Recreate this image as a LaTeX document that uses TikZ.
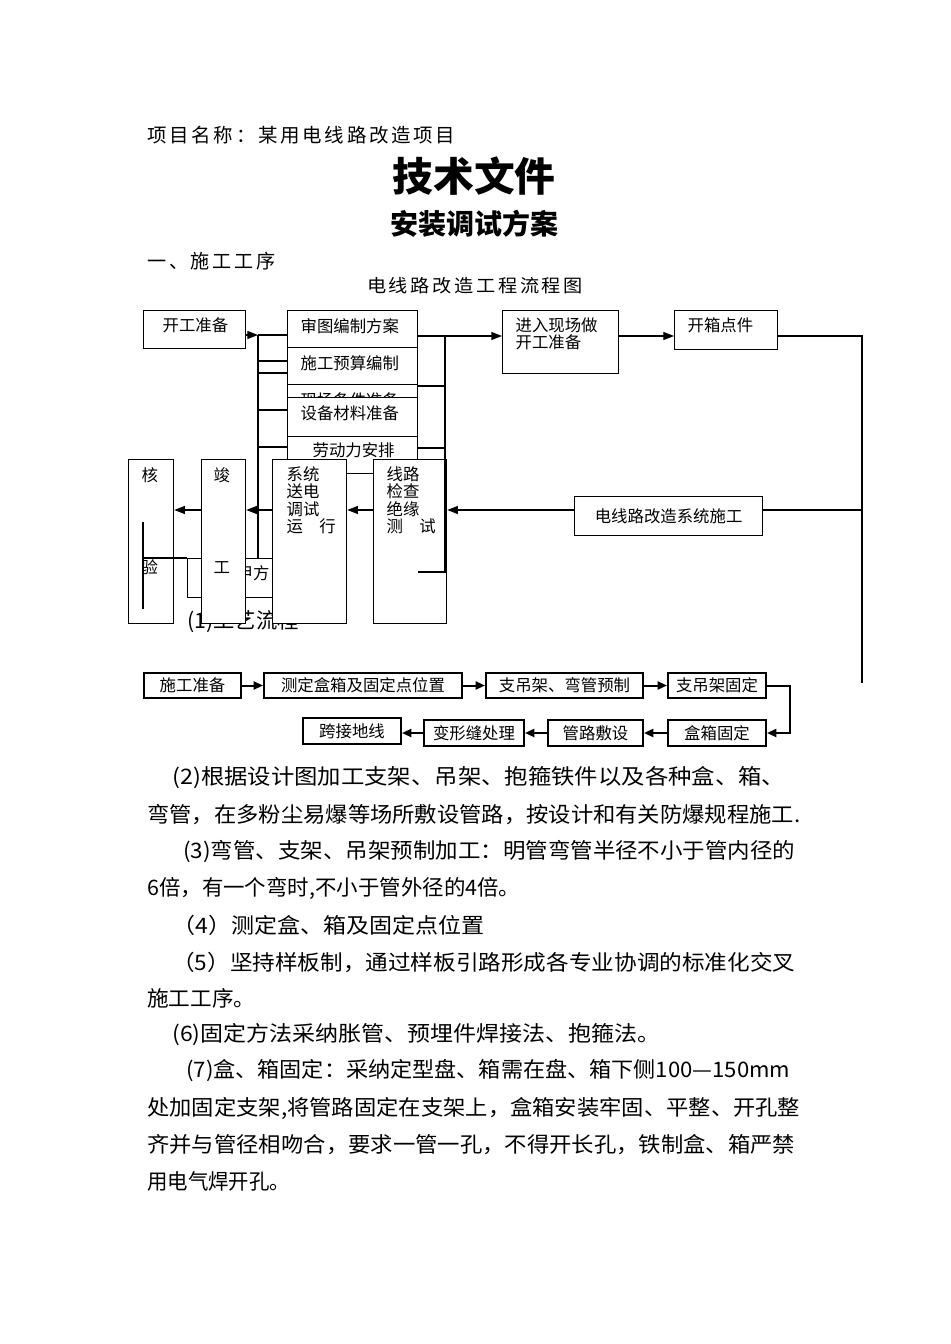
\documentclass[tikz,border=0pt]{standalone}
\usepackage{graphicx}
\usepackage{fontspec}
\setmainfont{Noto Sans CJK SC}
\newfontfamily\widecjk[LetterSpace=14]{Noto Sans CJK SC}
\usetikzlibrary{arrows.meta, positioning}

\newlength\pxu
\setlength\pxu{0.75pt}
\newcommand{\flowfont}{\fontsize{12.3pt}{13pt}\selectfont}
\newcommand{\bodyfont}{\fontsize{16pt}{18pt}\selectfont}
% stretch a line of text to a width given in pixels
\newcommand{\fitto}[2]{\resizebox{#1\pxu}{\height}{#2}}
% box content: width, height, top gap, left gap, text
\newcommand{\colbox}[5]{\parbox[c][#2\pxu][t]{#1\pxu}{\vspace*{#3\pxu}\leftskip=#4\pxu\relax\noindent #5}}

\tikzset{
  sz/.style 2 args={minimum width=#1*0.75pt, minimum height=#2*0.75pt},
  flowbox/.style={rectangle, draw, fill=white, line width=0.95pt, inner sep=0pt,
                  anchor=north west, font=\flowfont},
  stepbox/.style={rectangle, draw, fill=white, line width=1.5pt, inner sep=0pt,
                  anchor=north west, font=\flowfont},
  link/.style={line width=0.95pt},
  linkarrow/.style={link, -{Triangle[length=8pt, width=6pt]}},
  steparrow/.style={line width=1.5pt, -{Triangle[length=7pt, width=6pt]}},
  para/.style={anchor=west, inner sep=0pt, font=\bodyfont},
  head/.style={anchor=west, inner sep=0pt, font=\widecjk\fontsize{14.5pt}{16pt}\selectfont},
}

\begin{document}
\begin{tikzpicture}[x=0.75pt, y=-0.75pt]
\path[fill=white, use as bounding box] (0,0) rectangle (950,1344);

%% ---------------- heading ----------------
\node[head] (proj) at (147,135) {\fitto{308}{项目名称：某用电线路改造项目}};
\node[inner sep=0pt, font=\bfseries\fontsize{30pt}{32pt}\selectfont] (doc) at (474,176) {\fitto{163}{技术文件}};
\node[inner sep=0pt, font=\bfseries\fontsize{21pt}{23pt}\selectfont] (plan) at (474,224) {\fitto{168}{安装调试方案}};
\node[head] (sec) at (147,261) {\fitto{128}{一、施工工序}};
\node[inner sep=0pt, font=\widecjk\fontsize{13.5pt}{15pt}\selectfont] (chart) at (475,286) {\fitto{216}{电线路改造工程流程图}};

%% text lying under the boxes
\node[para] (craft) at (187,622) {(1)工艺流程};

%% ---------------- flow chart, upper part ----------------
\node[flowbox] (kaigong) at (143,310) {\colbox{102}{38}{7}{19}{开工准备}};

\node[flowbox] (shentu)    at (287,310) {\colbox{130}{37}{8}{13}{审图编制方案}};
\node[flowbox] (yusuan)    at (287,347) {\colbox{130}{37}{8}{13}{施工预算编制}};
\node[flowbox] (xianchang) at (287,384) {\colbox{130}{37}{8}{13}{现场条件准备}};
\node[flowbox] (shebei)    at (287,397) {\colbox{130}{39}{8}{13}{设备材料准备}};
\node[flowbox] (laodong)   at (287,436) {\colbox{130}{37}{6}{25}{劳动力安排}};

\node[flowbox] (jinru)    at (502,310) {\colbox{116}{63}{7}{13}{进入现场做\\开工准备}};
\node[flowbox] (kaixiang) at (674,310) {\colbox{103}{39}{7}{13}{开箱点件}};

\node[flowbox, sz={188}{39}] (shigong) at (574,496) {电线路改造系统施工};

\node[flowbox] (jiafang) at (187,558) {\colbox{132}{39}{7}{49}{甲方}};

\node[flowbox] (he)     at (128,459) {\colbox{45}{164}{8}{13}{核\\[75\pxu]验}};
\node[flowbox] (jun)    at (201,459) {\colbox{44}{164}{8}{12}{竣\\[75\pxu]工}};
\node[flowbox] (xitong) at (272,459) {\colbox{74}{164}{7}{14}{系统\\送电\\调试\\运　行}};
\node[flowbox] (xianlu) at (373,459) {\colbox{73}{164}{7}{13}{线路\\检查\\绝缘\\测　试}};

\coordinate (lt) at (258,335);
\coordinate (rt) at (445,336);
\coordinate (rb) at (445,572);
\coordinate (ea) at (862,510);
\coordinate (eb) at (862,683);
\coordinate (ha) at (143,522);
\coordinate (hb) at (143,609);

% left collector
\draw[linkarrow] (kaigong.east |- lt) -- (lt);
\draw[link] (lt) -- (jiafang.north -| lt);
\foreach \yy in {335,361,373,410,447}
  \draw[link] (lt |- 0,\yy) -- (shentu.west |- 0,\yy);

% right collector
\foreach \yy in {336,386,448}
  \draw[link] (shentu.east |- 0,\yy) -- (rt |- 0,\yy);
\draw[link] (rt) -- (rb) -- (rb -| shentu.east);
\draw[linkarrow] (rt) -- (jinru.west |- rt);
\draw[linkarrow] (jinru.east |- rt) -- (kaixiang.west |- rt);
\draw[link] (kaixiang.east |- rt) -| (eb);

% return line
\draw[link] (ea) -- (shigong.east |- ea);
\draw[linkarrow] (shigong.west |- ea) -- (xianlu.east |- ea);
\draw[linkarrow] (xianlu.west |- ea) -- (xitong.east |- ea);
\draw[linkarrow] (xitong.west |- ea) -- (jun.east |- ea);
\draw[linkarrow] (jun.west |- ea) -- (he.east |- ea);

% stray lines in the acceptance box
\draw[link] (ha) -- (hb);
\draw[link] (ha |- jiafang.north) -- (jiafang.north west);

%% ---------------- process chain ----------------
\node[stepbox, sz={97}{25}]  (s1) at (143,672) {施工准备};
\node[stepbox, sz={198}{25}] (s2) at (263,672) {测定盒箱及固定点位置};
\node[stepbox, sz={157}{25}] (s3) at (485,672) {支吊架、弯管预制};
\node[stepbox, sz={98}{25}]  (s4) at (667,672) {支吊架固定};
\node[stepbox, sz={98}{26}]  (s5) at (667,719) {盒箱固定};
\node[stepbox, sz={95}{26}]  (s6) at (547,719) {管路敷设};
\node[stepbox, sz={100}{26}] (s7) at (423,719) {变形缝处理};
\node[stepbox, sz={98}{26}]  (s8) at (302,717) {跨接地线};

\draw[steparrow] (s1) -- (s2);
\draw[steparrow] (s2) -- (s3);
\draw[steparrow] (s3) -- (s4);
\draw[steparrow] (s4.east) -- ++(23,0) |- (s5.east);
\draw[steparrow] (s5) -- (s6);
\draw[steparrow] (s6) -- (s7);
\draw[steparrow] (s7.west) -- (s8.east |- s7.west);

%% ---------------- body text ----------------
\node[para] (p1)  at (172,778)  {\fitto{613}{(2)根据设计图加工支架、吊架、抱箍铁件以及各种盒、箱、}};
\node[para] (p2)  at (147,815)  {\fitto{653}{弯管，在多粉尘易爆等场所敷设管路，按设计和有关防爆规程施工.}};
\node[para] (p3)  at (183,851)  {\fitto{612}{(3)弯管、支架、吊架预制加工：明管弯管半径不小于管内径的}};
\node[para] (p4)  at (147,888)  {\fitto{373}{6倍，有一个弯时,不小于管外径的4倍。}};
\node[para] (p5)  at (172,925)  {\fitto{312}{（4）测定盒、箱及固定点位置}};
\node[para] (p6)  at (172,962)  {\fitto{623}{（5）坚持样板制，通过样板引路形成各专业协调的标准化交叉}};
\node[para] (p7)  at (147,998)  {\fitto{108}{施工工序。}};
\node[para] (p8)  at (172,1035) {\fitto{488}{(6)固定方法采纳胀管、预埋件焊接法、抱箍法。}};
\node[para] (p9)  at (186,1071) {\fitto{604}{(7)盒、箱固定：采纳定型盘、箱需在盘、箱下侧100—150mm}};
\node[para] (p10) at (147,1108) {\fitto{653}{处加固定支架,将管路固定在支架上，盒箱安装牢固、平整、开孔整}};
\node[para] (p11) at (147,1145) {\fitto{648}{齐并与管径相吻合，要求一管一孔，不得开长孔，铁制盒、箱严禁}};
\node[para] (p12) at (147,1181) {\fitto{143}{用电气焊开孔。}};

\end{tikzpicture}
\end{document}
